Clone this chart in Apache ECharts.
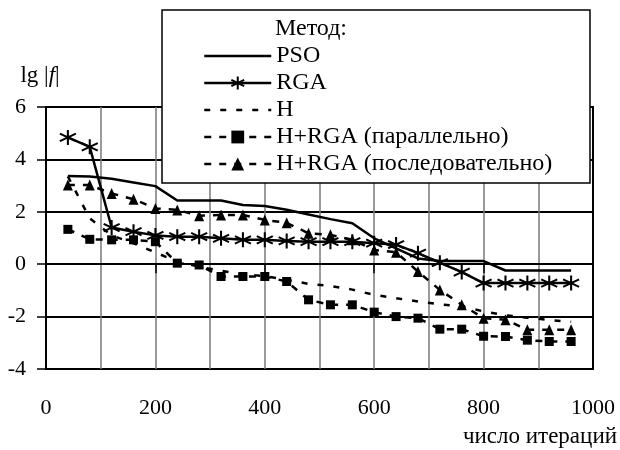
<!DOCTYPE html>
<html>
<head>
<meta charset="utf-8">
<style>
  html, body { margin: 0; padding: 0; background: #fff; }
  #chart { width: 620px; height: 450px; }
</style>
<script src="https://cdn.jsdelivr.net/npm/echarts@6/dist/echarts.min.js"></script>
</head>
<body>
<div id="chart"></div>
<script>
// ---- Data ----
const iterations = [40, 80, 120, 160, 200, 240, 280, 320, 360, 400, 440, 480,
                    520, 560, 600, 640, 680, 720, 760, 800, 840, 880, 920, 960];
const psoValues  = [3.37, 3.35, 3.26, 3.12, 2.98, 2.43, 2.43, 2.43, 2.26, 2.22, 2.08, 1.9,
                    1.72, 1.56, 0.99, 0.6, 0.22, 0.12, 0.12, 0.12, -0.24, -0.24, -0.24, -0.24];
const rgaValues  = [4.84, 4.48, 1.4, 1.24, 1.1, 1.05, 1.05, 0.99, 0.93, 0.93, 0.89, 0.86,
                    0.86, 0.86, 0.8, 0.75, 0.42, 0.06, -0.3, -0.72, -0.72, -0.72, -0.72, -0.72];
const hValues    = [3.35, 1.75, 1.1, 0.8, 0.45, 0.1, -0.1, -0.25, -0.4, -0.45, -0.6, -0.75,
                    -0.83, -0.97, -1.17, -1.3, -1.42, -1.53, -1.62, -1.8, -1.95, -2.04, -2.13, -2.2];
const parValues  = [1.33, 0.95, 0.93, 0.93, 0.86, 0.04, -0.03, -0.47, -0.47, -0.47, -0.66, -1.36,
                    -1.55, -1.55, -1.83, -2.0, -2.06, -2.48, -2.48, -2.75, -2.76, -2.9, -2.95, -2.95];
const seqValues  = [3.02, 3.02, 2.7, 2.48, 2.13, 2.07, 1.85, 1.88, 1.88, 1.69, 1.58, 1.18,
                    1.12, 0.93, 0.54, 0.46, -0.28, -0.98, -1.55, -2.06, -2.12, -2.5, -2.5, -2.5];
const seriesNames = ['PSO', 'RGA', 'H', 'H+RGA (параллельно)', 'H+RGA (последовательно)'];
const xTickLabels = ['0', '200', '400', '600', '800', '1000'];
const legendTitle = 'Метод:';
const xAxisName = 'число итераций';

const FONT = "'Liberation Serif', 'Times New Roman', serif";
const pairs = vals => iterations.map((x, i) => [x, vals[i]]);
const STAR = 'path://M0,-10L0,10M-8.66,-5L8.66,5M-8.66,5L8.66,-5';
const noSymbol = { color: 'rgba(0,0,0,0)', borderWidth: 0 };

const chart = echarts.init(document.getElementById('chart'), null, { renderer: 'canvas' });
chart.setOption({
  animation: false,
  backgroundColor: '#fff',
  textStyle: { fontFamily: FONT, color: '#000' },
  grid: { left: 46, right: 27, top: 107, bottom: 81, show: true,
          borderColor: '#000', borderWidth: 2, backgroundColor: 'transparent' },
  xAxis: {
    type: 'value', min: 0, max: 1000, interval: 200,
    axisLine: { show: true, lineStyle: { color: '#000', width: 2 } },
    axisTick: { show: true, inside: false, length: 9, lineStyle: { color: '#000', width: 1.5 } },
    minorTick: { show: false, splitNumber: 2 },
    axisLabel: { fontFamily: FONT, fontSize: 22, color: '#000', margin: 28,
                 formatter: v => xTickLabels[Math.round(v / 200)] },
    splitLine: { show: true, showMinLine: false, showMaxLine: false,
                 lineStyle: { color: '#7a7a7a', width: 1.5 } },
    minorSplitLine: { show: true, lineStyle: { color: '#7a7a7a', width: 1.5 } }
  },
  yAxis: {
    type: 'value', min: -4, max: 6, interval: 2,
    name: 'lg |{i|f}|', nameLocation: 'end', nameGap: 20,
    nameTextStyle: { fontFamily: FONT, fontSize: 23, color: '#000', align: 'center',
                     padding: [0, 12, 0, 0],
                     rich: { i: { fontFamily: FONT, fontSize: 23, fontStyle: 'italic', color: '#000' } } },
    axisLine: { show: true, lineStyle: { color: '#000', width: 2 } },
    axisTick: { show: true, inside: false, length: 9, lineStyle: { color: '#000', width: 1.5 } },
    axisLabel: { fontFamily: FONT, fontSize: 22, color: '#000', margin: 20 },
    splitLine: { show: true, lineStyle: { color: '#000', width: 2 } }
  },
  legend: {
    data: [
      { name: seriesNames[0], itemStyle: noSymbol },
      { name: seriesNames[1] },
      { name: seriesNames[2], itemStyle: noSymbol },
      { name: seriesNames[3] },
      { name: seriesNames[4] }
    ],
    orient: 'vertical', left: 203, top: 42.5,
    itemWidth: 67, itemHeight: 16, itemGap: 0, itemTextGap: 5, padding: 0,
    selectedMode: false, z: 5,
    textStyle: { fontFamily: FONT, fontSize: 24, color: '#000', lineHeight: 27 },
    lineStyle: { width: 2.5 }
  },
  graphic: [
    { type: 'rect', z: 3, shape: { x: 162, y: 10, width: 428, height: 173 },
      style: { fill: '#fff', stroke: '#000', lineWidth: 1.5 } },
    { type: 'text', z: 5, x: 275, y: 29,
      style: { text: legendTitle, font: "24px 'Liberation Serif', serif", fill: '#000',
               verticalAlign: 'middle', align: 'left' } },
    { type: 'text', z: 5, x: 617, y: 437,
      style: { text: xAxisName, font: "23px 'Liberation Serif', serif", fill: '#000',
               verticalAlign: 'middle', align: 'right' } }
  ],
  series: [
    { name: seriesNames[0], type: 'line', data: pairs(psoValues), symbol: 'none',
      lineStyle: { color: '#000', width: 2.5, type: 'solid' }, itemStyle: { color: '#000' } },
    { name: seriesNames[1], type: 'line', data: pairs(rgaValues), symbol: STAR, symbolSize: [16, 15],
      lineStyle: { color: '#000', width: 2.5, type: 'solid' },
      itemStyle: { color: '#000', borderColor: '#000', borderWidth: 2 } },
    { name: seriesNames[2], type: 'line', data: pairs(hValues), symbol: 'none',
      lineStyle: { color: '#000', width: 2.5, type: [6, 10] }, itemStyle: { color: '#000' } },
    { name: seriesNames[3], type: 'line', data: pairs(parValues), symbol: 'rect', symbolSize: 9,
      lineStyle: { color: '#000', width: 2.5, type: [7, 8] },
      itemStyle: { color: '#000', borderWidth: 0 } },
    { name: seriesNames[4], type: 'line', data: pairs(seqValues), symbol: 'triangle', symbolSize: [10, 11],
      lineStyle: { color: '#000', width: 2.5, type: [7, 8] },
      itemStyle: { color: '#000', borderWidth: 0 } }
  ]
});
</script>
</body>
</html>
